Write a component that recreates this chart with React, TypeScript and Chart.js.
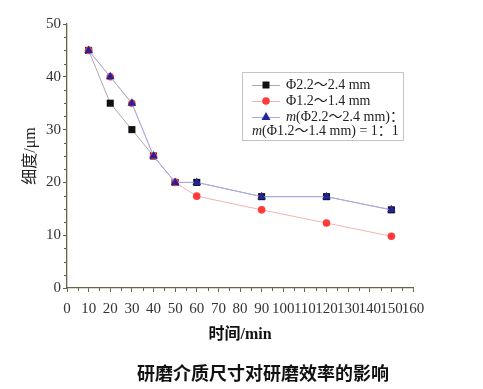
import React, { useEffect, useRef } from "react";
import { Chart, registerables } from "chart.js";

Chart.register(...registerables);

// ---- data ----
const times = [10, 20, 30, 40, 50, 60, 90, 120, 150];
const coarseValues = [45, 35, 30, 25, 20, 20, 17.3, 17.3, 14.8];
const fineValues = [45, 40, 35, 25, 20, 17.4, 14.8, 12.3, 9.8];
const mixedValues = [45, 40, 35, 25, 20, 20, 17.3, 17.3, 14.8];

const xMinorTicks = [5, 15, 25, 35, 45, 55, 65, 75, 85, 95, 105, 115, 125, 135, 145, 155];
const yMinorTicks = [2.5, 5, 7.5, 12.5, 15, 17.5, 22.5, 25, 27.5, 32.5, 35, 37.5, 42.5, 45, 47.5];

const legendLabels = ["Φ2.2～2.4 mm", "Φ1.2～1.4 mm"];
const legendMixLine1 = "(Φ2.2～2.4 mm)：";
const legendMixLine2 = "(Φ1.2～1.4 mm) = 1：1";

const xTitle = "时间/min";
const yTitle = "细度/μm";
const caption = "研磨介质尺寸对研磨效率的影响";

const AXIS_COLOR = "#6b6246";
const SERIF = "'Liberation Serif', 'Noto Sans CJK SC', serif";

const minorTicksPlugin = {
  id: "minorTicks",
  afterDraw(chart: any) {
    const { ctx } = chart;
    const xs = chart.scales.x;
    const ys = chart.scales.y;
    ctx.save();
    ctx.strokeStyle = AXIS_COLOR;
    ctx.lineWidth = 1;
    ctx.beginPath();
    xMinorTicks.forEach((v) => {
      const px = Math.round(xs.getPixelForValue(v)) + 0.5;
      ctx.moveTo(px, xs.top);
      ctx.lineTo(px, xs.top + 3);
    });
    yMinorTicks.forEach((v) => {
      const py = Math.round(ys.getPixelForValue(v)) + 0.5;
      ctx.moveTo(ys.right, py);
      ctx.lineTo(ys.right - 3, py);
    });
    ctx.stroke();
    ctx.restore();
  },
};

const captionPlugin = {
  id: "caption",
  afterDraw(chart: any) {
    const { ctx, chartArea } = chart;
    ctx.save();
    ctx.fillStyle = "#111";
    ctx.font = "bold 18px 'Noto Sans CJK SC', sans-serif";
    ctx.textAlign = "center";
    ctx.textBaseline = "middle";
    const cx = (chartArea.left + chartArea.right) / 2 + 23;
    ctx.fillText(caption, cx, chartArea.bottom + 85);
    ctx.restore();
  },
};

const legendPlugin = {
  id: "customLegend",
  afterDraw(chart: any) {
    const { ctx, chartArea } = chart;
    const bx = chartArea.left + 175;
    const by = chartArea.top + 48;
    const bw = 161;
    const bh = 68;
    ctx.save();
    ctx.fillStyle = "#ffffff";
    ctx.fillRect(bx, by, bw, bh);
    ctx.strokeStyle = "#c4c4c4";
    ctx.lineWidth = 1;
    ctx.strokeRect(bx + 0.5, by + 0.5, bw, bh);

    const ds = chart.data.datasets;
    const rows = [
      { meta: ds[2], y: by + 13, text: legendLabels[0] },
      { meta: ds[1], y: by + 29, text: legendLabels[1] },
      { meta: ds[0], y: by + 45, text: null },
    ];
    ctx.font = `14px ${SERIF}`;
    ctx.textBaseline = "middle";
    rows.forEach((r) => {
      const d: any = r.meta;
      ctx.strokeStyle = d.borderColor;
      ctx.lineWidth = 1;
      ctx.beginPath();
      ctx.moveTo(bx + 10, r.y + 0.5);
      ctx.lineTo(bx + 38, r.y + 0.5);
      ctx.stroke();
      ctx.fillStyle = d.pointBackgroundColor;
      ctx.beginPath();
      const cx = bx + 24;
      if (d.pointStyle === "rect") {
        ctx.rect(cx - 3.5, r.y - 3.5, 7, 7);
      } else if (d.pointStyle === "circle") {
        ctx.arc(cx, r.y, 3.8, 0, Math.PI * 2);
      } else {
        ctx.moveTo(cx, r.y - 5);
        ctx.lineTo(cx + 4.5, r.y + 3);
        ctx.lineTo(cx - 4.5, r.y + 3);
        ctx.closePath();
      }
      ctx.fill();
      ctx.fillStyle = "#222";
      if (r.text) {
        ctx.font = `14px ${SERIF}`;
        ctx.fillText(r.text, bx + 44, r.y);
      }
    });
    const drawMix = (x: number, y: number, rest: string) => {
      ctx.fillStyle = "#222";
      ctx.font = `italic 14px ${SERIF}`;
      ctx.fillText("m", x, y);
      const mw = ctx.measureText("m").width;
      ctx.font = `14px ${SERIF}`;
      ctx.fillText(rest, x + mw, y);
    };
    drawMix(bx + 44, by + 45, legendMixLine1);
    drawMix(bx + 10, by + 59, legendMixLine2);
    ctx.restore();
  },
};

export default function App() {
  const canvasRef = useRef<HTMLCanvasElement | null>(null);

  useEffect(() => {
    document.body.style.margin = "0";
    const canvas = canvasRef.current;
    if (!canvas) return;
    const toPts = (vals: number[]) => times.map((t, i) => ({ x: t, y: vals[i] }));
    const chart = new Chart(canvas, {
      type: "line",
      data: {
        datasets: [
          {
            label: "m(Φ2.2～2.4 mm)：m(Φ1.2～1.4 mm) = 1：1",
            data: toPts(mixedValues),
            borderColor: "#a9a9ea",
            backgroundColor: "#23239a",
            pointBackgroundColor: "#23239a",
            pointBorderColor: "#23239a",
            pointBorderWidth: 0,
            pointStyle: "triangle",
            pointRadius: 5,
            borderWidth: 1,
            order: 0,
          },
          {
            label: legendLabels[1],
            data: toPts(fineValues),
            borderColor: "#f5b2b2",
            backgroundColor: "#ff3a3a",
            pointBackgroundColor: "#ff3a3a",
            pointBorderColor: "#ff3a3a",
            pointBorderWidth: 0,
            pointStyle: "circle",
            pointRadius: 3.8,
            borderWidth: 1,
            order: 1,
          },
          {
            label: legendLabels[0],
            data: toPts(coarseValues),
            borderColor: "#ababab",
            backgroundColor: "#111111",
            pointBackgroundColor: "#111111",
            pointBorderColor: "#111111",
            pointBorderWidth: 0,
            pointStyle: "rect",
            pointRadius: 5,
            borderWidth: 1,
            order: 2,
          },
        ],
      },
      options: {
        animation: false,
        responsive: false,
        maintainAspectRatio: false,
        layout: { padding: { left: 0, right: 70, top: 24, bottom: 26.6 } },
        plugins: {
          legend: { display: false },
          tooltip: { enabled: false },
          title: { display: false },
        },
        scales: {
          x: {
            type: "linear",
            min: 0,
            max: 160,
            ticks: {
              stepSize: 10,
              autoSkip: false,
              maxRotation: 0,
              color: "#333",
              padding: 8,
              font: { size: 15, family: SERIF },
            },
            grid: {
              drawOnChartArea: false,
              drawTicks: true,
              tickLength: 4,
              tickColor: AXIS_COLOR,
            },
            border: { color: AXIS_COLOR, width: 1.3 },
            title: {
              display: true,
              text: xTitle,
              color: "#111",
              font: { size: 16, weight: "bold", family: SERIF },
              padding: { top: 0, bottom: 18 },
            },
            afterFit: (s: any) => {
              s.height = 74.4;
            },
          },
          y: {
            type: "linear",
            min: 0,
            max: 50,
            ticks: {
              stepSize: 10,
              color: "#333",
              padding: 2,
              font: { size: 15, family: SERIF },
            },
            grid: {
              drawOnChartArea: false,
              drawTicks: true,
              tickLength: 4,
              tickColor: AXIS_COLOR,
            },
            border: { color: AXIS_COLOR, width: 1.3 },
            title: {
              display: true,
              text: yTitle,
              color: "#222",
              font: { size: 16, family: SERIF },
              padding: { top: 21, bottom: 0 },
            },
            afterFit: (s: any) => {
              s.width = 67;
            },
          },
        },
      },
      plugins: [minorTicksPlugin, legendPlugin, captionPlugin],
    } as any);
    return () => chart.destroy();
  }, []);

  return (
    <div style={{ width: 483, height: 389, background: "#fff" }}>
      <canvas ref={canvasRef} width={483} height={389} style={{ display: "block" }} />
    </div>
  );
}
